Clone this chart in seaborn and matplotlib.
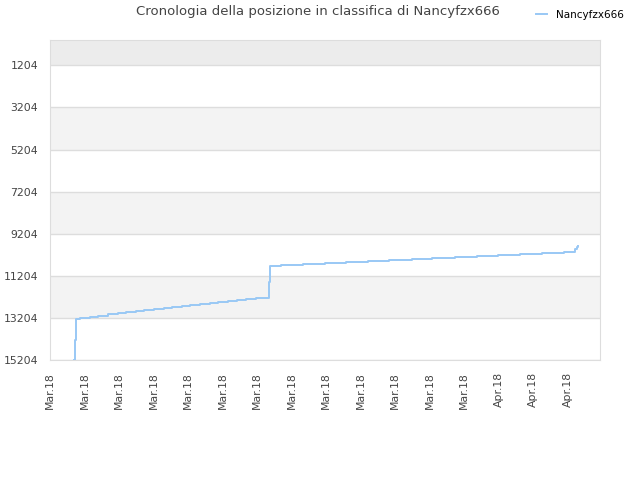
import pandas as pd
import matplotlib.pyplot as plt
import seaborn as sns

# Dati (posizione in classifica nel tempo)
orari = [
    "2018-03-08 10:00", "2018-03-08 11:00", "2018-03-08 12:00", "2018-03-08 18:00",
    "2018-03-09 07:00", "2018-03-09 19:00", "2018-03-10 09:00", "2018-03-10 22:00",
    "2018-03-11 10:00", "2018-03-11 23:00", "2018-03-12 11:00", "2018-03-13 01:00",
    "2018-03-13 14:00", "2018-03-14 02:00", "2018-03-14 15:00", "2018-03-15 03:00",
    "2018-03-15 17:00", "2018-03-16 06:00", "2018-03-16 18:00", "2018-03-17 07:00",
    "2018-03-17 20:00", "2018-03-18 09:00", "2018-03-18 22:00", "2018-03-19 11:00",
    "2018-03-19 16:00", "2018-03-19 17:30", "2018-03-20 09:00", "2018-03-21 16:00",
    "2018-03-22 22:00", "2018-03-24 04:00", "2018-03-25 10:00", "2018-03-26 16:00",
    "2018-03-27 23:00", "2018-03-29 04:00", "2018-03-30 11:00", "2018-03-31 18:00",
    "2018-04-01 23:00", "2018-04-03 06:00", "2018-04-04 13:00", "2018-04-05 19:00",
    "2018-04-06 10:00", "2018-04-06 13:00", "2018-04-06 14:00",
]
posizioni = [
    15204, 14256, 13259, 13197,
    13150, 13102, 13036, 12988,
    12941, 12893, 12846, 12798,
    12751, 12689, 12642, 12594,
    12547, 12514, 12466, 12419,
    12371, 12324, 12276, 12248,
    11500, 10729, 10682, 10634,
    10587, 10539, 10492, 10444,
    10402, 10364, 10316, 10269,
    10221, 10174, 10117, 10065,
    9951, 9842, 9808,
]
tick_y = [1204, 3204, 5204, 7204, 9204, 11204, 13204, 15204]
tick_x = pd.date_range("2018-03-07", periods=16, freq="2D")
utente = "Nancyfzx666"

df = pd.DataFrame({"data": pd.to_datetime(orari), "posizione": posizioni})

fig = plt.figure(figsize=(6.4, 4.8), dpi=100)
ax = fig.add_axes([50 / 640, 1 - 360 / 480, 550 / 640, 320 / 480])

# Bande di sfondo alternate
ax.axhspan(0, 1204, color="#ececec", zorder=0, lw=0)
for a, b in [(3204, 5204), (7204, 9204), (11204, 13204)]:
    ax.axhspan(a, b, color="#f3f3f3", zorder=0, lw=0)

sns.lineplot(data=df, x="data", y="posizione", drawstyle="steps-post",
             color="#99c8f5", linewidth=1.4, label=utente, ax=ax, zorder=3)

ax.set_ylim(15204, 0)
ax.set_yticks(tick_y)
ax.set_xlim(pd.Timestamp("2018-03-07 00:00"), pd.Timestamp("2018-04-07 21:00"))
ax.set_xticks(tick_x)
ax.set_xticklabels([d.strftime("%b.%y") for d in tick_x], rotation=90)

ax.grid(axis="y", color="#dddddd", linewidth=1)
ax.grid(axis="x", visible=False)
ax.set_axisbelow(True)
for s in ax.spines.values():
    s.set_color("#dddddd")
ax.tick_params(length=0, labelsize=7.8, labelcolor="#444444")
ax.tick_params(axis="y", pad=8.5)
ax.tick_params(axis="x", pad=8.5)
ax.set_xlabel("")
ax.set_ylabel("")

fig.text(0.497, 0.975, "Cronologia della posizione in classifica di " + utente,
         ha="center", va="center", fontsize=9.5, color="#444444")

ax.legend(loc="center left", bbox_to_anchor=(531 / 640, 1 - 15 / 480),
          bbox_transform=fig.transFigure, frameon=False, fontsize=7.5,
          handlelength=1.0, handletextpad=0.9, borderpad=0)

fig.savefig("out.png", dpi=100)
